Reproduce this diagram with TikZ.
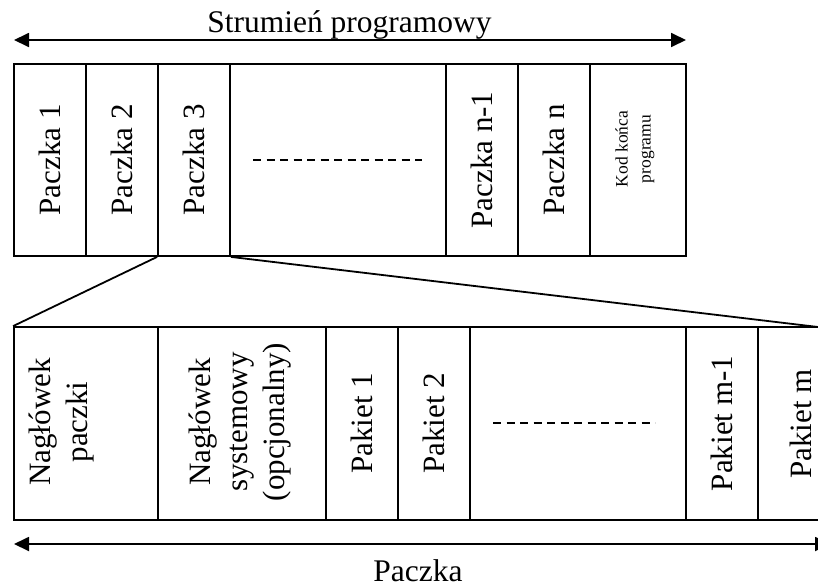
\documentclass[tikz,border=0pt]{standalone}
\usepackage{fontspec}
\setmainfont{Liberation Serif}
\usetikzlibrary{arrows.meta}
\begin{document}
\begin{tikzpicture}[x=1pt,y=-1pt,
  line width=1.8pt,
  cell/.style={draw, rectangle, inner sep=0pt},
  vtext/.style={rotate=90, inner sep=0pt, align=center,
    font=\fontsize{31}{40}\selectfont},
  headtext/.style={rotate=90, inner sep=0pt, align=center,
    font=\fontsize{31}{37}\selectfont},
  smalltext/.style={rotate=90, inner sep=0pt, align=center,
    font=\fontsize{17.5}{23}\selectfont},
  heading/.style={inner sep=0pt, anchor=base, font=\fontsize{31.5}{38}\selectfont},
  span/.style={{Triangle[length=15pt,width=14pt]}-{Triangle[length=15pt,width=14pt]}},
  gapline/.style={dash pattern=on 8pt off 5.5pt, line width=1.6pt},
]
\clip (0,0) rectangle (818,587);

% ---- program stream: top row of packs ----
\foreach \n/\xa/\xb in {p1/14/86, p2/86/158, p3/158/230, p4/230/446,
                        p5/446/518, p6/518/590, p7/590/686}
  \node[cell, minimum width={\xb-\xa}, minimum height=192] (\n)
    at ({(\xa+\xb)/2},160) {};

\node[vtext] (t1) at (p1) {Paczka 1};
\node[vtext] (t2) at (p2) {Paczka 2};
\node[vtext] (t3) at (p3) {Paczka 3};
\node[vtext] (t5) at (p5) {Paczka n-1};
\node[vtext] (t6) at (p6) {Paczka n};
\node[smalltext] (t7) at (635,149) {Kod końca\\programu};
\draw[gapline] (253,160) -- (422,160);

% stream span arrow and title
\coordinate (sl) at (14,40);
\coordinate (sr) at (686,40);
\draw[span] (sl) -- (sr);
\node[heading] (st) at (349.5,32.5) {Strumień programowy};

% ---- expanded pack: bottom row ----
\foreach \n/\xa/\xb in {q1/14/158, q2/158/326, q3/326/398, q4/398/470,
                        q5/470/686, q6/686/758, q7/758/842}
  \node[cell, minimum width={\xb-\xa}, minimum height=193] (\n)
    at ({(\xa+\xb)/2},423.5) {};

\node[headtext] (u1) at (62,422) {Nagłówek\\paczki};
\node[headtext] (u2) at (240,422) {Nagłówek\\systemowy\\(opcjonalny)};
\node[vtext] (u3) at (q3) {Pakiet 1};
\node[vtext] (u4) at (q4) {Pakiet 2};
\node[vtext] (u6) at (q6) {Pakiet m-1};
\node[vtext] (u7) at (801,424) {Pakiet m};
\draw[gapline] (493,423) -- (655,423);

% zoom lines from pack 3 to the expanded pack
\coordinate (zr) at (818,327);
\draw (p3.south east) -- (zr);
\draw (p3.south west) -- (q1.north west);

% pack span arrow and title
\coordinate (pl) at (14,544);
\coordinate (pr) at (830,544);
\draw[span] (pl) -- (pr);
\node[heading] (pt) at (418,581) {Paczka};
\end{tikzpicture}
\end{document}
